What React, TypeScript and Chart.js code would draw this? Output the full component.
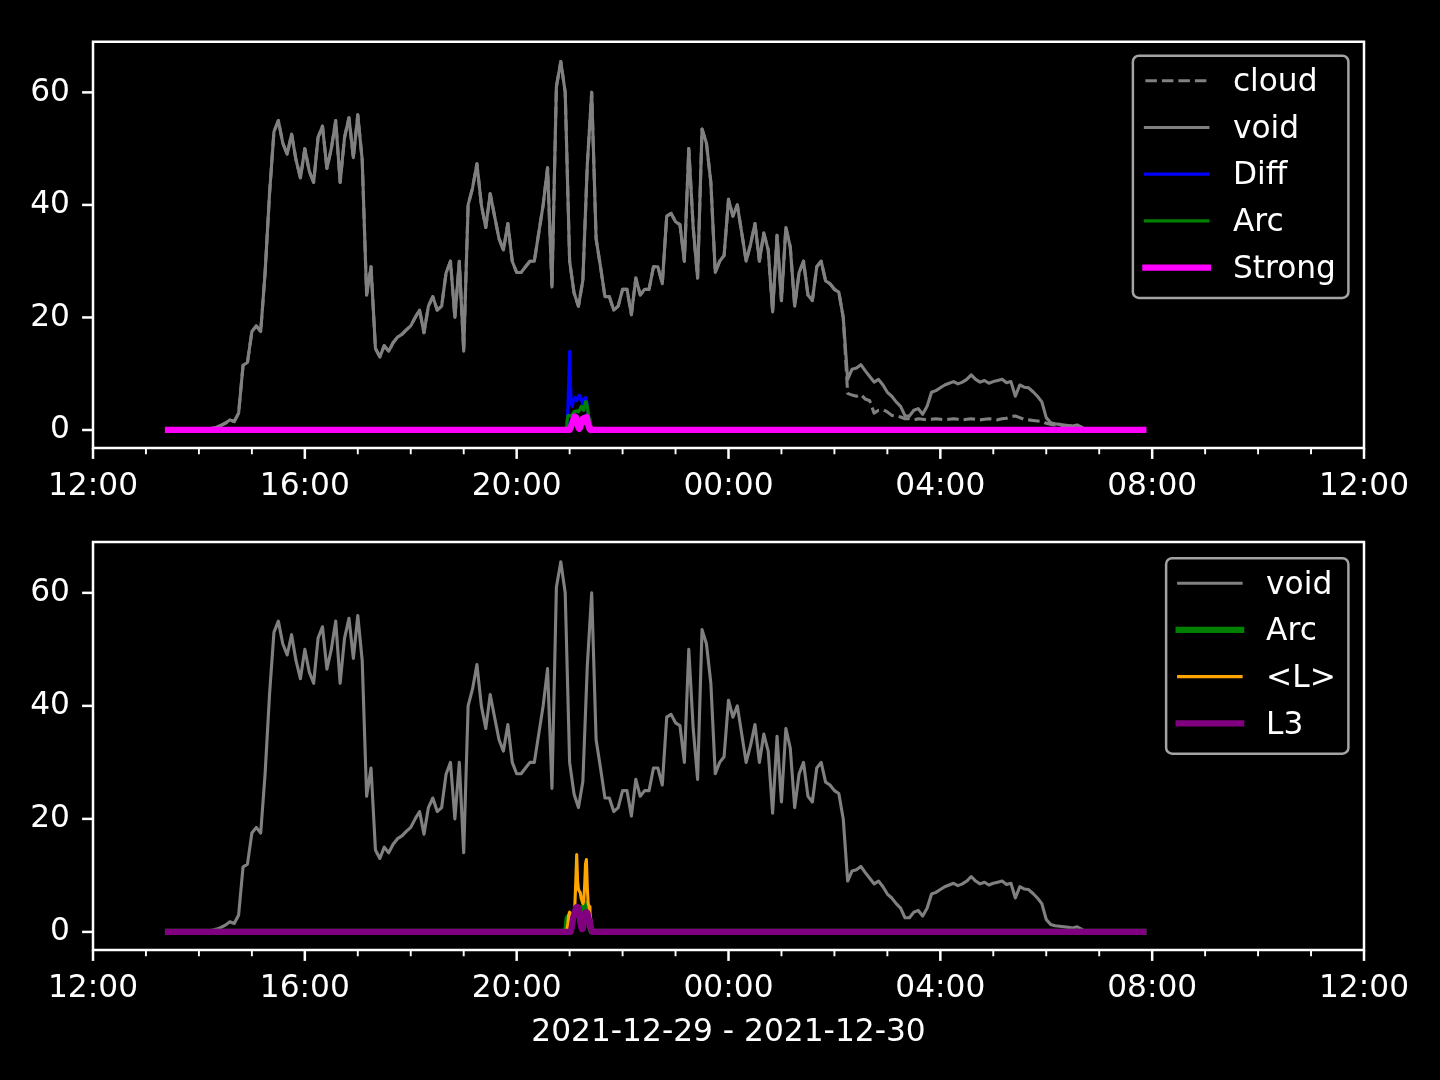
import React, { useEffect, useRef } from "react";
import { Chart, registerables } from "chart.js";

Chart.register(...registerables);

// ---------- data (times in minutes after 12:00 on 2021-12-29) ----------
const SERIES_START_MIN = 85; // 13:25
const SERIES_END_MIN = 1190; // 07:50 next day
const VOID_STEP_MIN = 5;

const voidValues = [
  0, 0, 0, 0, 0, 0, 0, 0, 0, 0.1,
  0.3, 0.5, 0.8, 1.2, 1.8, 1.5, 3, 11.5, 12, 17.5,
  18.5, 17.5, 28, 42, 53, 55, 51, 49, 52.6, 48,
  44.8, 50, 46, 44, 52, 54, 46.5, 50, 55, 44,
  52, 55.5, 48.4, 56, 48, 24, 29, 14.5, 13, 15,
  14, 15.5, 16.5, 17, 17.8, 18.5, 20, 21.3, 17.3, 22,
  23.7, 21.3, 22, 27.9, 30, 20, 30, 14, 40, 43,
  47.3, 40, 36, 42, 38, 34, 32, 36.7, 30, 28,
  28, 29, 30, 30, 35, 40, 46.6, 25.4, 61, 65.5,
  60, 30, 24.4, 22, 26.6, 47, 60, 34, 29, 23.7,
  23.7, 21.3, 22, 25, 25, 20.5, 27, 24, 25, 25,
  29, 29, 26, 38, 38.5, 37, 36.5, 30, 50, 36,
  27, 53.5, 51, 44, 28, 30, 31, 41, 38, 40,
  35, 30, 33, 36.7, 30, 35, 32, 21, 34.6, 23,
  36, 32.5, 22, 28, 30, 24, 23, 29, 30, 26.5,
  26, 25, 24.5, 20, 9, 10.8, 11, 11.6, 10.5, 9.5,
  8.5, 9, 8, 6.7, 6, 5, 4.2, 2.5, 2.5, 3.5,
  3.8, 2.8, 4.2, 6.7, 7, 7.5, 8, 8.3, 8.6, 8.2,
  8.5, 9, 9.8, 9, 8.5, 8.8, 8.3, 8.6, 8.8, 9,
  8.4, 8.6, 6, 8, 7.6, 7.5, 6.8, 6, 5, 2.2,
  1.3, 1.1, 1, 0.9, 0.8, 0.7, 0.9, 0.5,
];

// cloud coincides with void until this sample, then follows its own values
const CLOUD_SPLIT_INDEX = 154;
const cloudTail = [
  6.5, 6.2, 6.0, 6.3, 5.5, 5.2, 3.0, 3.5, 3.6, 3.2,
  2.6, 2.5, 2.3, 2.0, 2.0, 1.8, 2.0, 1.9, 1.8, 1.9,
  2.0, 1.9, 1.8, 1.9, 2.0, 1.9, 1.8, 1.9, 2.0, 1.9,
  1.8, 1.9, 2.0, 1.9, 1.8, 2.0, 2.1, 2.4, 2.5, 2.2,
  1.9, 1.8, 1.7, 1.6, 1.5, 1.2, 1.0, 0.9, 0.8, 0.8,
  0.7, 0.7, 0.6, 0.5,
];

// burst around 21:00, one value per minute from 20:54
const SPIKE_START_MIN = 534; // 20:54
const SPIKE_STEP_MIN = 1;
const diffValues = [
  0, 0, 0, 0.5, 4, 9, 14, 8, 4.5, 4.2,
  5, 5.5, 5.8, 5.6, 5.2, 5.5, 6, 6.2, 6, 5.5,
  5, 4.6, 5, 5.6, 5.8, 5.5, 4.5, 3, 2, 1,
  0.4, 0, 0,
];
const arcValues = [
  0, 0, 0.5, 1.5, 2.5, 2.6, 2.5, 2.5, 2.6, 2.8,
  3, 3.3, 3.3, 3.3, 3.4, 3.3, 3.2, 3.5, 3.8, 4.2,
  4, 3.6, 3.5, 4.2, 5, 5, 4.2, 3, 2, 1.2,
  0.5, 0.1, 0,
];
const strongValues = [
  0, 0, 0, 0, 0, 0, 0, 0.3, 0.8, 1.3,
  1.8, 2.2, 2.4, 2.3, 1.8, 1.0, 0.4, 0.2, 0.5, 1.2,
  1.8, 2.0, 2.1, 2.0, 2.2, 2.3, 1.8, 1.0, 0.4, 0.1,
  0, 0, 0,
];
const lMeanValues = [
  0, 0, 0, 0.5, 1.5, 3, 3.5, 2.5, 1.5, 1.5,
  2, 3, 5, 9, 13.7, 9, 7.5, 7.2, 7, 6,
  5.5, 5, 5.5, 8, 12, 12.8, 8, 5, 4.5, 3.5,
  2, 0.5, 0,
];
const l3Values = [
  0, 0, 0, 0, 0, 0, 0, 0, 0.5, 1.5,
  2.5, 3, 3.5, 4.2, 4.4, 4.4, 4.2, 3.5, 2, 1,
  0.5, 0.6, 1.5, 2.8, 3.4, 3.5, 3.4, 2.8, 2, 1.5,
  0.8, 0.3, 0,
];

const xTickHours = [0, 4, 8, 12, 16, 20, 24];
const yTickValues = [0, 20, 40, 60];
const xAxisLabel = "2021-12-29 - 2021-12-30";

// ---------- helpers ----------
const FONT_FAMILY = "DejaVu Sans";
const FS = 31.25;
const toHours = (m: number) => m / 60;
const hourLabel = (h: number) => String((12 + h) % 24).padStart(2, "0") + ":00";

const voidPoints = voidValues.map((v, i) => ({ x: toHours(SERIES_START_MIN + i * VOID_STEP_MIN), y: v }));
const cloudPoints = voidValues.map((v, i) => ({
  x: toHours(SERIES_START_MIN + i * VOID_STEP_MIN),
  y: i < CLOUD_SPLIT_INDEX ? v : cloudTail[i - CLOUD_SPLIT_INDEX],
}));
const burstPoints = (vals: number[]) => [
  { x: toHours(SERIES_START_MIN), y: 0 },
  ...vals.map((v, i) => ({ x: toHours(SPIKE_START_MIN + i * SPIKE_STEP_MIN), y: v })),
  { x: toHours(SERIES_END_MIN), y: 0 },
];

type Entry = { label: string; data: { x: number; y: number }[]; color: string; width: number; dash?: number[]; cap?: string };

const topEntries: Entry[] = [
  { label: "cloud", data: cloudPoints, color: "#808080", width: 3.1, dash: [11.5, 5], cap: "butt" },
  { label: "void", data: voidPoints, color: "#808080", width: 3.1 },
  { label: "Diff", data: burstPoints(diffValues), color: "#0000ff", width: 3.1 },
  { label: "Arc", data: burstPoints(arcValues), color: "#008000", width: 3.1 },
  { label: "Strong", data: burstPoints(strongValues), color: "#ff00ff", width: 6.25 },
];
const bottomEntries: Entry[] = [
  { label: "void", data: voidPoints, color: "#808080", width: 3.1 },
  { label: "Arc", data: burstPoints(arcValues), color: "#008000", width: 6.25 },
  { label: "<L>", data: burstPoints(lMeanValues), color: "#ffa500", width: 3.1 },
  { label: "L3", data: burstPoints(l3Values), color: "#800080", width: 6.25 },
];

const mplPlugin = {
  id: "mpl",
  beforeDraw(chart: any) {
    const { ctx, width, height } = chart;
    ctx.save();
    ctx.fillStyle = "#000";
    ctx.fillRect(0, 0, width, height);
    ctx.restore();
  },
  afterDraw(chart: any, _args: any, opts: any) {
    const { ctx, chartArea: a, scales } = chart;
    const xs = scales.x;
    const ys = scales.y;
    ctx.save();
    ctx.strokeStyle = "#ffffff";
    ctx.lineCap = "butt";
    // ticks
    for (let h = 0; h <= 24; h++) {
      const px = xs.getPixelForValue(h);
      const major = h % 4 === 0;
      ctx.lineWidth = major ? 2.5 : 1.9;
      ctx.beginPath();
      ctx.moveTo(px, a.bottom);
      ctx.lineTo(px, a.bottom + (major ? 10.9 : 6.25));
      ctx.stroke();
    }
    for (const v of yTickValues) {
      const py = ys.getPixelForValue(v);
      ctx.lineWidth = 2.5;
      ctx.beginPath();
      ctx.moveTo(a.left, py);
      ctx.lineTo(a.left - 10.9, py);
      ctx.stroke();
    }
    // spines
    ctx.lineWidth = 2.5;
    ctx.strokeRect(a.left, a.top, a.right - a.left, a.bottom - a.top);

    // legend
    const entries: Entry[] = opts.entries || [];
    ctx.font = `${FS}px "${FONT_FAMILY}"`;
    let maxW = 0;
    for (const e of entries) maxW = Math.max(maxW, ctx.measureText(e.label).width);
    const pad = 12.5;
    const handleLen = 62.5;
    const textPad = 25;
    const rowGap = 46.7;
    const boxW = pad + handleLen + textPad + maxW + pad;
    const boxRight = a.right - 15.6;
    const boxLeft = boxRight - boxW;
    const boxTop = a.top + opts.boxTopOffset;
    const firstRow = boxTop + 25;
    const boxBottom = firstRow + (entries.length - 1) * rowGap + 30.4;
    const r = 6;
    ctx.beginPath();
    ctx.moveTo(boxLeft + r, boxTop);
    ctx.lineTo(boxRight - r, boxTop);
    ctx.arcTo(boxRight, boxTop, boxRight, boxTop + r, r);
    ctx.lineTo(boxRight, boxBottom - r);
    ctx.arcTo(boxRight, boxBottom, boxRight - r, boxBottom, r);
    ctx.lineTo(boxLeft + r, boxBottom);
    ctx.arcTo(boxLeft, boxBottom, boxLeft, boxBottom - r, r);
    ctx.lineTo(boxLeft, boxTop + r);
    ctx.arcTo(boxLeft, boxTop, boxLeft + r, boxTop, r);
    ctx.closePath();
    ctx.fillStyle = "rgba(0,0,0,0.8)";
    ctx.fill();
    ctx.strokeStyle = "rgba(204,204,204,0.8)";
    ctx.lineWidth = 2.5;
    ctx.stroke();

    entries.forEach((e, i) => {
      const y = firstRow + i * rowGap;
      const hx = boxLeft + pad;
      ctx.save();
      ctx.strokeStyle = e.color;
      ctx.lineWidth = e.width;
      ctx.lineCap = (e.cap || "square") as CanvasLineCap;
      ctx.setLineDash(e.dash || []);
      ctx.beginPath();
      ctx.moveTo(hx, y);
      ctx.lineTo(hx + handleLen, y);
      ctx.stroke();
      ctx.restore();
      ctx.fillStyle = "#ffffff";
      ctx.textAlign = "left";
      ctx.textBaseline = "alphabetic";
      ctx.fillText(e.label, hx + handleLen + textPad, y + 10.3);
    });
    ctx.restore();
  },
};

type PanelProps = {
  top: number;
  height: number;
  areaTop: number;
  areaBottom: number;
  entries: Entry[];
  withTitle: boolean;
  boxTopOffset: number;
};

function Panel({ top, height, areaTop, areaBottom, entries, withTitle, boxTopOffset }: PanelProps) {
  const ref = useRef<HTMLCanvasElement>(null);
  useEffect(() => {
    const n = entries.length;
    const chart = new Chart(ref.current as HTMLCanvasElement, {
      type: "line",
      data: {
        datasets: entries.map((e, i) => ({
          label: e.label,
          data: e.data,
          borderColor: e.color,
          backgroundColor: e.color,
          borderWidth: e.width,
          borderDash: e.dash || [],
          borderCapStyle: (e.cap || "square") as any,
          borderJoinStyle: "round" as any,
          pointRadius: 0,
          tension: 0,
          fill: false,
          order: n - i,
        })),
      },
      options: {
        animation: false,
        responsive: false,
        maintainAspectRatio: false,
        devicePixelRatio: 1,
        events: [],
        layout: { padding: { top: areaTop, right: 1440 - 1364, left: 0, bottom: 0 } },
        plugins: {
          legend: { display: false },
          tooltip: { enabled: false },
          mpl: { entries, boxTopOffset },
        } as any,
        scales: {
          x: {
            type: "linear",
            min: 0,
            max: 24,
            grid: { display: false, drawTicks: false },
            border: { display: false },
            afterBuildTicks: (s: any) => {
              s.ticks = xTickHours.map((value) => ({ value }));
            },
            afterFit: (s: any) => {
              s.height = height - areaBottom;
            },
            ticks: {
              autoSkip: false,
              maxRotation: 0,
              minRotation: 0,
              padding: 20.5,
              color: "#ffffff",
              font: { family: FONT_FAMILY, size: FS },
              callback: (v: any) => hourLabel(Number(v)),
            },
            title: {
              display: withTitle,
              text: xAxisLabel,
              color: "#ffffff",
              font: { family: FONT_FAMILY, size: FS },
              padding: { top: 0, bottom: 28 },
            },
          },
          y: {
            type: "linear",
            min: -3.2,
            max: 69,
            grid: { display: false, drawTicks: false },
            border: { display: false },
            afterBuildTicks: (s: any) => {
              s.ticks = yTickValues.map((value) => ({ value }));
            },
            afterFit: (s: any) => {
              s.width = 93;
            },
            ticks: {
              padding: 23,
              color: "#ffffff",
              font: { family: FONT_FAMILY, size: FS },
              callback: (v: any) => String(v),
            },
          },
        },
      } as any,
      plugins: [mplPlugin as any],
    });
    return () => chart.destroy();
  }, []);
  return (
    <canvas
      ref={ref}
      width={1440}
      height={height}
      style={{ position: "absolute", left: 0, top, width: 1440, height, display: "block" }}
    />
  );
}

export default function App() {
  return (
    <div style={{ position: "fixed", left: 0, top: 0, width: 1440, height: 1080, background: "#000", overflow: "hidden" }}>
      <Panel top={0} height={500} areaTop={39} areaBottom={448} entries={topEntries} withTitle={false} boxTopOffset={14} />
      <Panel top={500} height={580} areaTop={42} areaBottom={450} entries={bottomEntries} withTitle={true} boxTopOffset={16.2} />
    </div>
  );
}
